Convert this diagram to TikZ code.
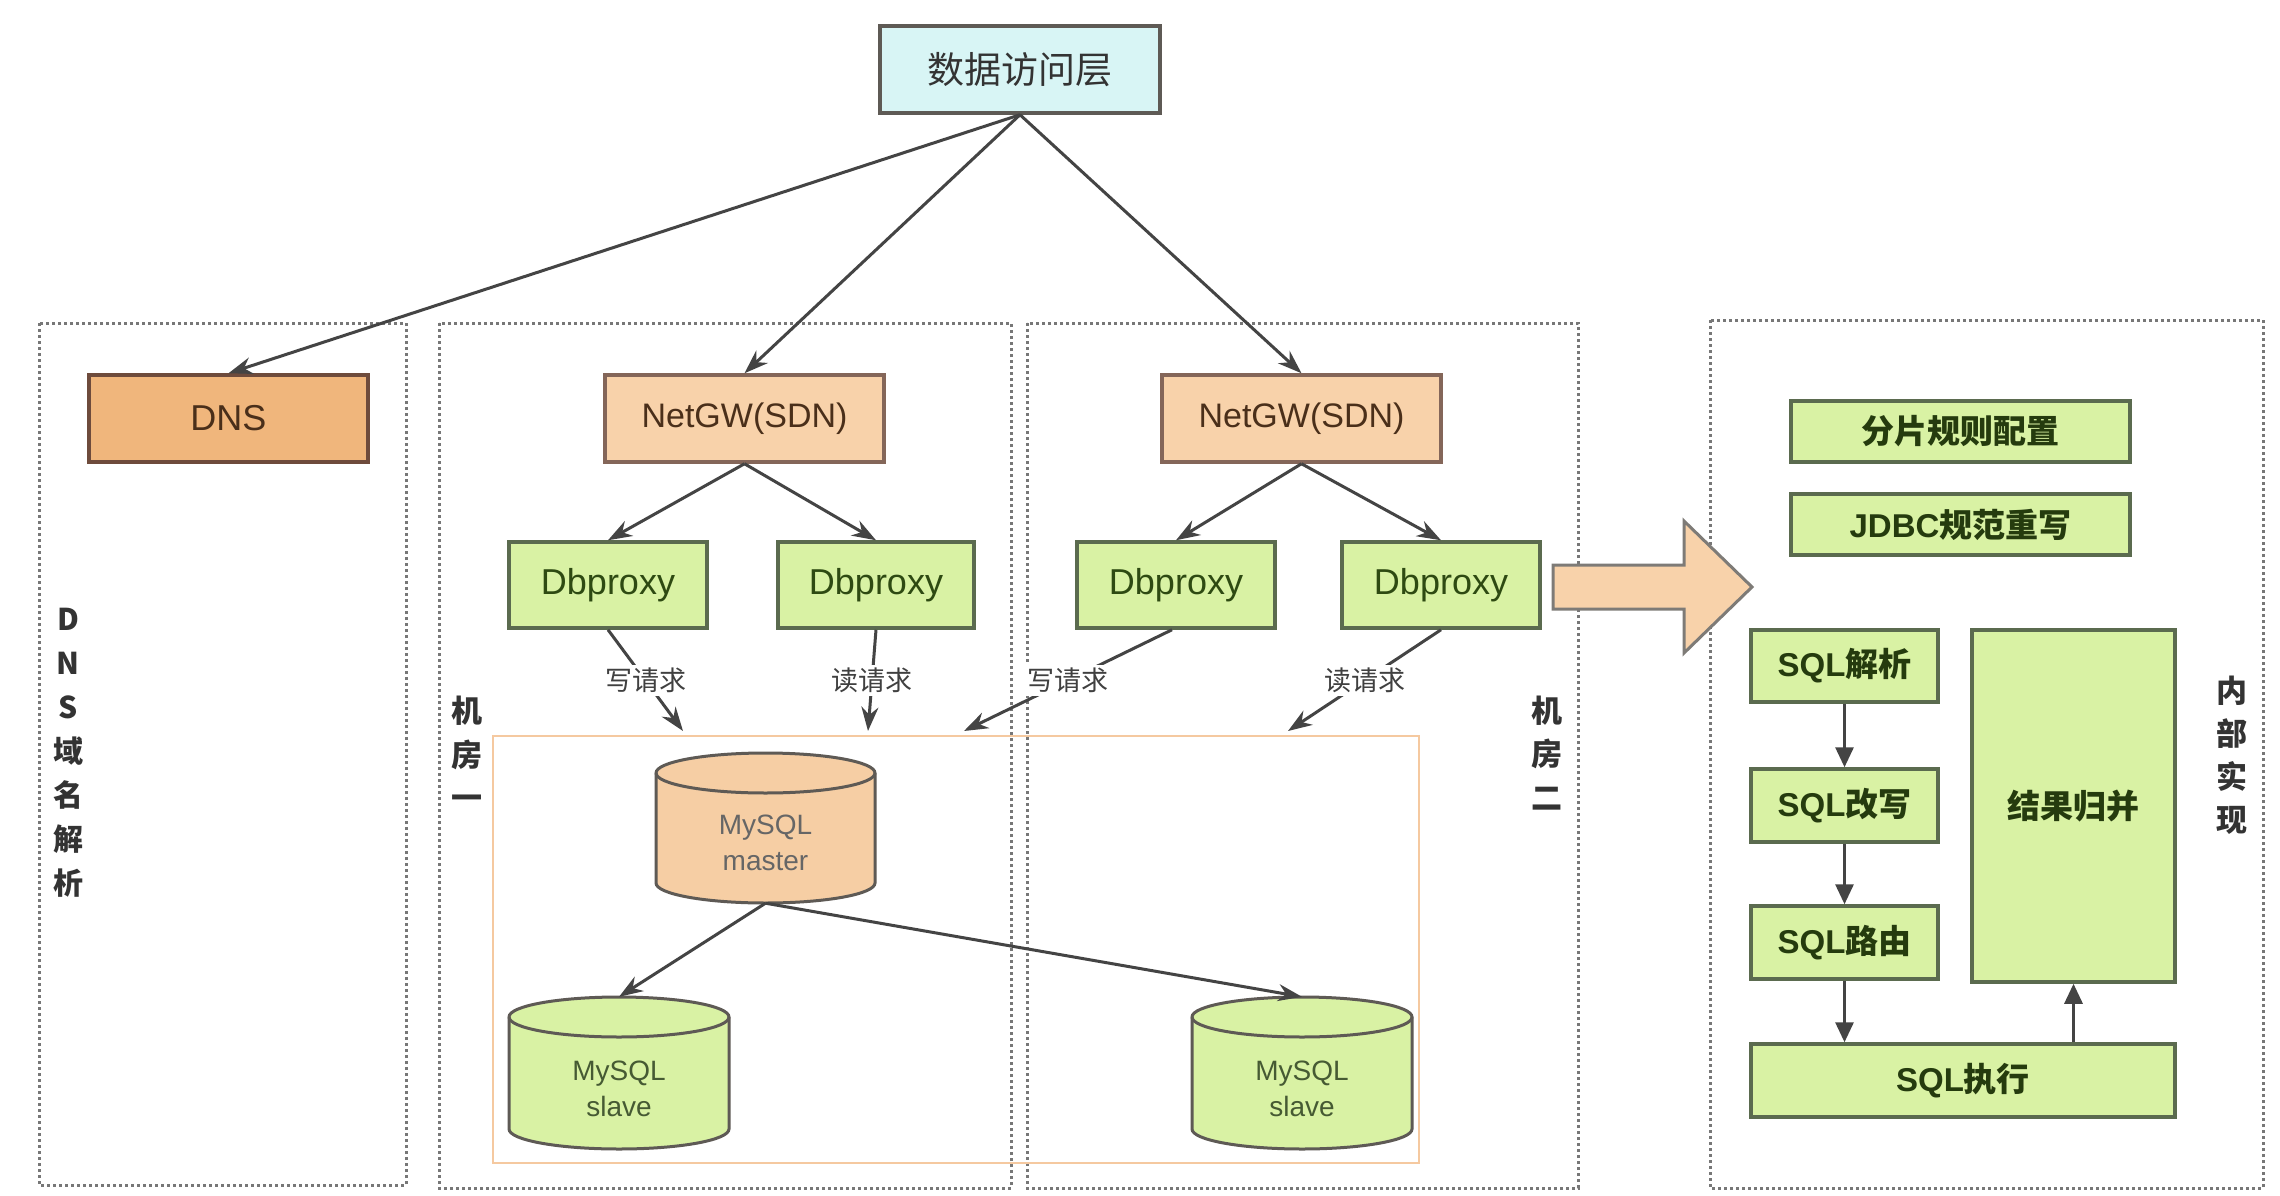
\documentclass[tikz,border=0pt]{standalone}
\usepackage{fontspec}
\setmainfont{Liberation Sans}
\newfontfamily\cjk{Noto Sans CJK SC}
\usetikzlibrary{arrows.meta,calc}
\definecolor{cyanfill}{HTML}{D8F5F5}
\definecolor{dnsfill}{HTML}{F0B67C}
\definecolor{gwfill}{HTML}{F8D2AA}
\definecolor{grnfill}{HTML}{D9F2A4}
\definecolor{mstfill}{HTML}{F6CEA4}
\definecolor{bordgray}{HTML}{5E5A55}
\definecolor{bordbrown}{HTML}{6E4B3C}
\definecolor{bordgreen}{HTML}{5B6B4F}
\definecolor{linegray}{HTML}{444444}
\definecolor{dotgray}{HTML}{777777}
\definecolor{txtgreen}{HTML}{2E4A12}
\definecolor{txtbrown}{HTML}{4A2F1A}
\definecolor{regionorange}{HTML}{F5C9A0}
\begin{document}
\begin{tikzpicture}[x=1pt,y=-1pt,
  box/.style={draw=bordgray, line width=3.5pt, inner sep=0pt, anchor=center},
  topbox/.style={box, fill=cyanfill, text=black!80, font=\cjk\fontsize{37}{40}\selectfont},
  dnsbox/.style={box, draw=bordbrown, fill=dnsfill, text=txtbrown, font=\fontsize{36}{40}\selectfont},
  gwbox/.style={box, draw=bordbrown!85, fill=gwfill, text=txtbrown, font=\fontsize{34}{40}\selectfont},
  dpbox/.style={box, draw=bordgreen, fill=grnfill, text=txtgreen, font=\fontsize{36}{40}\selectfont},
  rbox/.style={box, draw=bordgreen, fill=grnfill, text=txtgreen!80!black, font=\bfseries\fontsize{33}{38}\selectfont},
  region/.style={draw=dotgray, line width=3pt, dash pattern=on 3pt off 3pt},
  conn/.style={draw=linegray, line width=3pt, -{Stealth[length=24pt,width=17pt]}},
  rconn/.style={draw=linegray, line width=3pt, -{Triangle[length=20pt,width=18pt]}},
  lbl/.style={fill=white, inner sep=3pt, text=black!75, font=\cjk\fontsize{27}{30}\selectfont},
  vlbl/.style={align=center, text=black!80, inner sep=0pt},
  cyl/.style={line width=3pt, draw=bordgray},
  cylanchor/.style={inner sep=0pt},
  cyltext/.style={inner sep=0pt, align=center, font=\fontsize{28}{36}\selectfont}
]
\useasboundingbox (0,0) rectangle (2280,1196);
\fill[white] (0,0) rectangle (2280,1196);

% dotted regions
\draw[region] (39,323) rectangle (406,1185);
\draw[region] (439,323) rectangle (1011,1188);
\draw[region] (1027,323) rectangle (1578,1188);
\draw[region] (1710,320) rectangle (2263,1188);

% orange MySQL region
\draw[regionorange, line width=2.5pt] (493,736) rectangle (1419,1163);

% top
\node[topbox, minimum width=280pt, minimum height=87pt] (top) at (1020,69.5) {数据访问层};
\node[dnsbox, minimum width=279pt, minimum height=87pt] (dns) at (228.5,418.5) {DNS};
\node[gwbox, minimum width=279pt, minimum height=87pt] (gw1) at (744.5,418.5) {NetGW(SDN)};
\node[gwbox, minimum width=279pt, minimum height=87pt] (gw2) at (1301.5,418.5) {NetGW(SDN)};

\node[dpbox, minimum width=198pt, minimum height=86pt] (dp1) at (608,585) {Dbproxy};
\node[dpbox, minimum width=196pt, minimum height=86pt] (dp2) at (876,585) {Dbproxy};
\node[dpbox, minimum width=198pt, minimum height=86pt] (dp3) at (1176,585) {Dbproxy};
\node[dpbox, minimum width=198pt, minimum height=86pt] (dp4) at (1441,585) {Dbproxy};

% cylinders
\filldraw[cyl, fill=mstfill] (656,773) -- (656,883) arc[start angle=180,end angle=0,x radius=109.5,y radius=20] -- (875,773) arc[start angle=0,end angle=-180,x radius=109.5,y radius=20] -- cycle;
\draw[cyl] (656,773) arc[start angle=180,end angle=0,x radius=109.5,y radius=20];
\node[cylanchor, minimum width=219pt, minimum height=150pt] (master) at (765.5,828) {};
\node[cyltext, text=black!60] (mastertxt) at (765.5,843) {MySQL\\master};

\filldraw[cyl, fill=grnfill] (509,1017) -- (509,1129) arc[start angle=180,end angle=0,x radius=110,y radius=20] -- (729,1017) arc[start angle=0,end angle=-180,x radius=110,y radius=20] -- cycle;
\draw[cyl] (509,1017) arc[start angle=180,end angle=0,x radius=110,y radius=20];
\node[cylanchor, minimum width=220pt, minimum height=152pt] (slaveL) at (619,1073) {};
\node[cyltext, text=txtgreen!70!gray] (slaveLtxt) at (619,1089) {MySQL\\slave};

\filldraw[cyl, fill=grnfill] (1192,1017) -- (1192,1129) arc[start angle=180,end angle=0,x radius=110,y radius=20] -- (1412,1017) arc[start angle=0,end angle=-180,x radius=110,y radius=20] -- cycle;
\draw[cyl] (1192,1017) arc[start angle=180,end angle=0,x radius=110,y radius=20];
\node[cylanchor, minimum width=220pt, minimum height=152pt] (slaveR) at (1302,1073) {};
\node[cyltext, text=txtgreen!70!gray] (slaveRtxt) at (1302,1089) {MySQL\\slave};

% connectors
\draw[conn] (top.south) -- (dns.north);
\draw[conn] (top.south) -- (gw1.north);
\draw[conn] (top.south) -- (gw2.north);
\draw[conn] (gw1.south) -- (dp1.north);
\draw[conn] (gw1.south) -- (dp2.north);
\draw[conn] (gw2.south) -- (dp3.north);
\draw[conn] (gw2.south) -- (dp4.north);
\draw[conn] (master.south) -- (slaveL.north);
\draw[conn] (master.south) -- (slaveR.north);

\coordinate (e1) at (683,731);
\coordinate (e2) at (868,731);
\coordinate (e3) at (964,731);
\coordinate (e4) at (1288,731);
\draw[conn] (dp1.south) -- node[lbl] {写请求} (e1);
\draw[conn] (dp2.south) -- node[lbl] {读请求} (e2);
\draw[conn] ([xshift=-4pt]dp3.south) -- node[lbl] {写请求} (e3);
\draw[conn] (dp4.south) -- node[lbl] {读请求} (e4);

% vertical labels
\node[vlbl, font=\cjk\bfseries\fontsize{30}{44}\selectfont] (dnsl) at (68,753) {D\\N\\S\\域\\名\\解\\析};
\node[vlbl, font=\cjk\bfseries\fontsize{31}{43.5}\selectfont] (room1) at (467,753) {机\\房\\一};
\node[vlbl, font=\cjk\bfseries\fontsize{31}{43.5}\selectfont] (room2) at (1547,753) {机\\房\\二};
\node[vlbl, font=\cjk\bfseries\fontsize{31}{43}\selectfont] (inner) at (2232,755) {内\\部\\实\\现};

% big arrow
\filldraw[draw=bordgray!80, fill=gwfill, line width=3pt, line join=miter]
  (1553,565) -- (1684,565) -- (1684,521) -- (1752,587) -- (1684,653) -- (1684,609) -- (1553,609) -- cycle;

% right internals
\node[rbox, minimum width=339pt, minimum height=61pt] (shard) at (1960.5,431.5) {\cjk 分片规则配置};
\node[rbox, minimum width=339pt, minimum height=61pt] (jdbc) at (1960.5,524.5) {JDBC{\cjk 规范重写}};
\node[rbox, minimum width=187pt, minimum height=72pt] (parse) at (1844.5,666) {SQL{\cjk 解析}};
\node[rbox, minimum width=187pt, minimum height=73pt] (rewrite) at (1844.5,805.5) {SQL{\cjk 改写}};
\node[rbox, minimum width=187pt, minimum height=73pt] (route) at (1844.5,942.5) {SQL{\cjk 路由}};
\node[rbox, minimum width=203pt, minimum height=352pt] (merge) at (2073.5,806) {\cjk 结果归并};
\node[rbox, minimum width=424pt, minimum height=73pt] (exec) at (1963,1080.5) {SQL{\cjk 执行}};

\draw[rconn] (parse.south) -- (rewrite.north);
\draw[rconn] (rewrite.south) -- (route.north);
\draw[rconn] (route.south) -- (route.south |- exec.north);
\draw[rconn] (merge.south |- exec.north) -- (merge.south);
\end{tikzpicture}
\end{document}
